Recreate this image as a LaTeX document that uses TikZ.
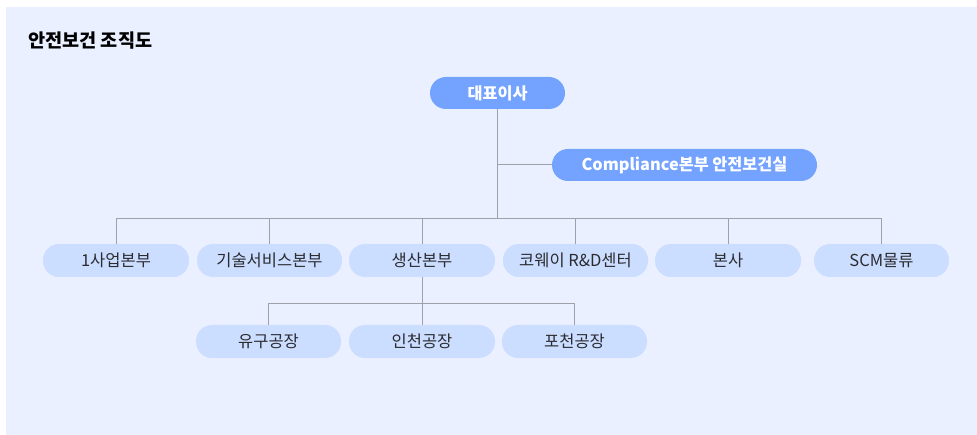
\documentclass[tikz,border=0pt]{standalone}
\usepackage{fontspec}
\setmainfont{Noto Sans CJK KR}

\definecolor{panel}{HTML}{EAF0FF}
\definecolor{headfill}{HTML}{74A3FF}
\definecolor{unitfill}{HTML}{CCDEFF}
\definecolor{linegray}{HTML}{A0A0A8}
\definecolor{textdark}{HTML}{2B2B30}

\tikzstyle{unit} = [rectangle,rounded corners=16pt,minimum height=33pt,inner sep=0pt,fill=unitfill,text=textdark,font=\fontsize{16.5}{19}\selectfont]
\tikzstyle{head} = [unit,fill=headfill,text=white,minimum height=32pt,font=\fontsize{16.3}{19}\selectfont\bfseries]
\tikzstyle{link} = [draw=linegray,line width=1pt]
\tikzstyle{title} = [anchor=west,inner sep=0pt,text=black,font=\fontsize{18.6}{22}\selectfont\bfseries]

\begin{document}
\begin{tikzpicture}[x=1pt,y=-1pt]
      \useasboundingbox (0,0) rectangle (977,435);
      \fill[panel] (6,7) rectangle (977,435);
      \node[title] (caption) at (28,41) {안전보건 조직도};
      % nodes
      \node[head,minimum width=135pt] (ceo) at (497.5,93) {대표이사};
      \node[head,minimum width=265pt] (comp) at (684.5,165) {Compliance본부 안전보건실};
      \foreach \nodename/\x/\y/\w/\value in {
        p1/116/260.5/146/1사업본부,
        p2/269.5/260.5/145/기술서비스본부,
        prod/422/260.5/146/생산본부,
        rnd/575.5/260.5/145/코웨이 R\&D센터,
        hq/728/260.5/146/본사,
        scm/881.5/260.5/135/SCM물류,
        f1/268.5/341.5/145/유구공장,
        f2/422/341.5/146/인천공장,
        f3/574.5/341.5/145/포천공장}
      {
        \node[unit,minimum width=\w pt] (\nodename) at (\x,\y) {\value};
      };
      \coordinate (bus) at (497.5,219);
      \coordinate (plant) at (422,304);
      %edges
      \draw[link] (ceo.south) -- (bus);
      \draw[link] (ceo.south) |- (comp.west);
      \foreach \endnode in {p1,p2,prod,rnd,hq,scm}
      {
        \draw[link] (bus) -| (\endnode.north);
      };
      \draw[link] (prod.south) -- (plant);
      \foreach \endnode in {f1,f2,f3}
      {
        \draw[link] (plant) -| (\endnode.north);
      };
\end{tikzpicture}
\end{document}
